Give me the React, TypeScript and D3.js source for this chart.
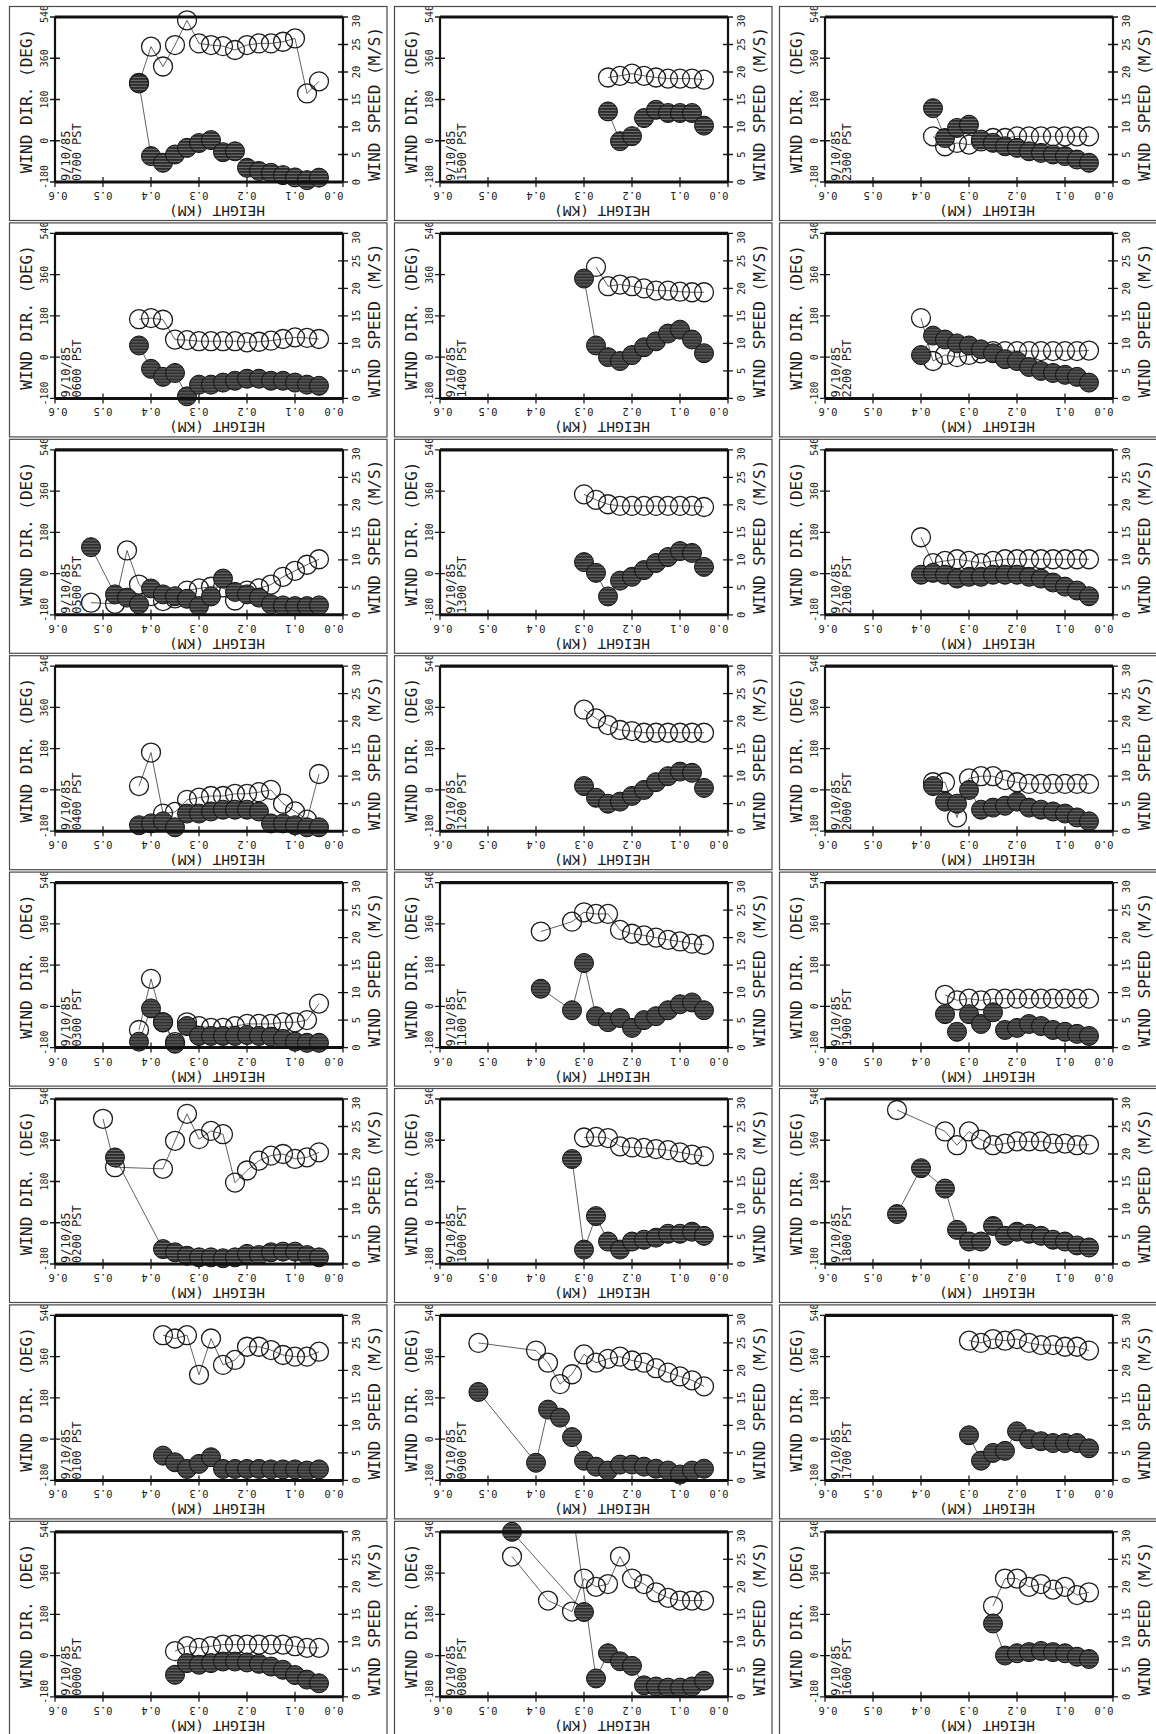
import React from 'react';
import * as d3 from 'd3';

// ---------- data (height km, wind direction deg, wind speed m/s) ----------
const G16 = [0.425, 0.4, 0.375, 0.35, 0.325, 0.3, 0.275, 0.25, 0.225, 0.2, 0.175, 0.15, 0.125, 0.1, 0.075, 0.05];
const G15 = [0.4, 0.375, 0.35, 0.325, 0.3, 0.275, 0.25, 0.225, 0.2, 0.175, 0.15, 0.125, 0.1, 0.075, 0.05];
const G14 = [0.375, 0.35, 0.325, 0.3, 0.275, 0.25, 0.225, 0.2, 0.175, 0.15, 0.125, 0.1, 0.075, 0.05];
const G13 = [0.35, 0.325, 0.3, 0.275, 0.25, 0.225, 0.2, 0.175, 0.15, 0.125, 0.1, 0.075, 0.05];
const G11 = [0.3, 0.275, 0.25, 0.225, 0.2, 0.175, 0.15, 0.125, 0.1, 0.075, 0.05];
const G9 = [0.25, 0.225, 0.2, 0.175, 0.15, 0.125, 0.1, 0.075, 0.05];

// column 1
const H0700 = G16;
const DIR0700 = [250, -67, -96, -60, -31, -10, 3, -50, -46, -118, -132, -140, -150, -160, -172, -161];
const SPD0700 = [18.0, 24.6, 21.0, 24.9, 29.4, 25.2, 24.9, 24.7, 24.0, 24.9, 25.2, 25.2, 25.5, 26.1, 16.1, 18.3];

const H0600 = G16;
const DIR0600 = [51, -51, -86, -69, -171, -120, -120, -111, -103, -94, -94, -103, -103, -111, -120, -125];
const SPD0600 = [14.4, 14.6, 14.3, 10.7, 10.6, 10.4, 10.4, 10.4, 10.4, 10.2, 10.3, 10.5, 10.8, 11.1, 11.0, 10.8];

const H0500 = [0.525, 0.475, 0.45, 0.425, 0.4, 0.375, 0.35, 0.325, 0.3, 0.275, 0.25, 0.225, 0.2, 0.175, 0.15, 0.125, 0.1, 0.075, 0.05];
const DIR0500 = [115, -91, -105, -134, -65, -91, -99, -110, -142, -100, -22, -80, -91, -105, -134, -139, -142, -142, -139];
const SPD0500 = [2.2, 2.0, 11.7, 5.5, 3.4, 2.5, 3.0, 4.4, 4.8, 5.1, 5.0, 2.6, 4.4, 4.8, 5.5, 6.9, 8.0, 9.1, 10.1];

const H0400 = G16;
const DIR0400 = [-154, -146, -137, -163, -103, -103, -94, -86, -86, -86, -94, -146, -146, -154, -163, -163];
const SPD0400 = [8.2, 14.3, 3.2, 3.5, 5.7, 6.1, 6.4, 6.4, 6.8, 6.8, 7.1, 7.5, 5.0, 3.6, 2.1, 10.4];

const H0300 = G16;
const DIR0300 = [-154, -9, -69, -163, -86, -129, -129, -129, -129, -125, -129, -132, -142, -154, -159, -159];
const SPD0300 = [3.2, 12.5, 4.6, 1.0, 4.6, 3.9, 3.6, 3.6, 3.9, 4.3, 4.3, 4.3, 4.6, 4.6, 5.0, 8.0];

const H0200 = [0.5, 0.475, 0.375, 0.35, 0.325, 0.3, 0.275, 0.25, 0.225, 0.2, 0.175, 0.15, 0.125, 0.1, 0.075, 0.05];
const DIR0200 = [null, 285, -115, -129, -144, -151, -151, -155, -151, -136, -141, -129, -126, -126, -141, -151];
const SPD0200 = [26.4, 17.6, 17.3, 22.4, 27.3, 22.7, 24.2, 23.6, 14.8, 17.0, 18.8, 19.7, 20.0, 19.1, 19.4, 20.3];

const H0100 = G14;
const DIR0100 = [-72, -101, -130, -108, -79, -130, -130, -130, -130, -132, -132, -132, -137, -132];
const SPD0100 = [26.4, 25.8, 26.4, 19.2, 25.8, 21.0, 21.9, 24.3, 24.3, 23.7, 22.8, 22.5, 22.5, 23.4];

const H0000 = G13;
const DIR0000 = [-84, -33, -40, -33, -26, -26, -30, -36, -48, -62, -85, -105, -121];
const SPD0000 = [8.3, 9.2, 8.9, 9.2, 9.5, 9.5, 9.5, 9.5, 9.5, 9.5, 9.2, 8.9, 8.9];

// column 2
const H1500 = G9;
const DIR1500 = [128, -2, 20, 99, 135, 121, 121, 121, 66];
const SPD1500 = [19.0, 19.3, 19.7, 19.3, 19.0, 18.8, 18.8, 18.8, 18.6];

const H1400 = G11;
const DIR1400 = [343, 51, 0, -17, 9, 43, 69, 103, 120, 77, 17];
const SPD1400 = [null, 23.9, 20.4, 20.7, 20.4, 20.0, 19.6, 19.6, 19.4, 19.3, 19.3];

const H1300 = G11;
const DIR1300 = [50, 3, -100, -31, -14, 15, 46, 72, 98, 90, 29];
const SPD1300 = [21.9, 20.9, 20.1, 19.8, 19.8, 19.8, 19.8, 19.8, 19.8, 19.8, 19.6];

const H1200 = G11;
const DIR1200 = [17, -34, -60, -51, -26, 0, 34, 60, 80, 75, 9];
const SPD1200 = [22.1, 20.5, 19.3, 18.4, 18.2, 17.9, 17.9, 17.9, 17.9, 17.9, 17.9];

const H1100 = [0.39, 0.325, 0.3, 0.275, 0.25, 0.225, 0.2, 0.175, 0.15, 0.125, 0.1, 0.075, 0.05];
const DIR1100 = [77, -17, 189, -43, -69, -51, -94, -60, -43, -17, 9, 17, -17];
const SPD1100 = [21.1, 22.9, 24.6, 24.3, 24.3, 21.4, 20.7, 20.4, 20.0, 19.6, 19.3, 18.9, 18.7];

const H1000 = [0.325, 0.3, 0.275, 0.25, 0.225, 0.2, 0.175, 0.15, 0.125, 0.1, 0.075, 0.05];
const DIR1000 = [278, -117, 29, -82, -117, -82, -74, -65, -48, -48, -39, -57];
const SPD1000 = [null, 23.0, 23.1, 22.9, 21.4, 21.2, 21.1, 20.9, 20.7, 20.3, 19.9, 19.6];

const H0900 = [0.52, 0.4, 0.375, 0.35, 0.325, 0.3, 0.275, 0.25, 0.225, 0.2, 0.175, 0.15, 0.125, 0.1, 0.075, 0.05];
const DIR0900 = [206, -103, 129, 94, 9, -94, -120, -137, -111, -111, -120, -129, -137, -154, -137, -129];
const SPD0900 = [25.0, 23.6, 21.4, 17.5, 19.3, 22.9, 21.4, 22.1, 22.5, 21.8, 21.4, 20.4, 19.6, 18.9, 18.2, 17.1];

const H0800 = [0.45, 0.375, 0.325, 0.3, 0.275, 0.25, 0.225, 0.2, 0.175, 0.15, 0.125, 0.1, 0.075, 0.05];
const SPD0800 = [25.5, 17.5, 15.5, 21.5, 20, 20.5, 25.5, 21.5, 20.5, 19, 18, 17.5, 17.5, 17.5];
const H0800D = [0.45, 0.3, 0.3, 0.335, 0.275, 0.25, 0.225, 0.2, 0.175, 0.15, 0.125, 0.1, 0.075, 0.05];
const DIR0800 = [540, 190, NaN, 800, -100, 10, -25, -45, -130, -135, -140, -140, -135, -110];

// column 3
const H2300 = G14;
const DIR2300 = [142, 12, 56, 70, 5, -9, -24, -31, -46, -53, -60, -67, -82, -96];
const SPD2300 = [8.3, 6.5, 7.1, 6.8, 7.4, 8.0, 8.0, 8.3, 8.3, 8.3, 8.3, 8.3, 8.3, 8.3];

const H2200 = G15;
const DIR2200 = [9, 94, 77, 60, 51, 34, 17, -9, -17, -43, -60, -69, -77, -86, -111];
const SPD2200 = [14.6, 6.8, 7.9, 7.5, 7.9, 8.2, 8.6, 8.6, 8.6, 8.6, 8.6, 8.6, 8.6, 8.6, 8.7];

const H2100 = G15;
const DIR2100 = [-5, 3, -5, -22, -14, -14, -5, -5, -5, -14, -22, -39, -57, -74, -99];
const SPD2100 = [14.1, 9.4, 9.8, 10.1, 9.8, 9.4, 9.8, 10.1, 10.1, 10.1, 10.1, 10.1, 10.1, 10.1, 10.1];

const H2000 = G14;
const DIR2000 = [17, -51, -60, 0, -86, -77, -69, -51, -77, -86, -94, -103, -120, -137];
const SPD2000 = [8.9, 8.9, 2.5, 9.6, 10.0, 10.0, 9.3, 8.9, 8.6, 8.6, 8.6, 8.6, 8.6, 8.6];

const H1900 = G13;
const DIR1900 = [-34, -111, -34, -77, -26, -103, -94, -77, -86, -103, -111, -120, -129];
const SPD1900 = [9.6, 8.6, 8.9, 8.6, 8.9, 8.9, 8.9, 8.9, 8.9, 8.9, 8.9, 8.9, 8.9];

const H1800 = [0.45, 0.4, 0.35, 0.325, 0.3, 0.275, 0.25, 0.225, 0.2, 0.175, 0.15, 0.125, 0.1, 0.075, 0.05];
const DIR1800 = [38, 238, 149, -31, -82, -82, -14, -57, -39, -48, -57, -74, -82, -99, -108];
const SPD1800 = [28.0, null, 24.1, 21.6, 24.1, 22.6, 21.6, 21.9, 22.3, 22.3, 22.3, 21.9, 21.9, 21.6, 21.7];

const H1700 = G11;
const DIR1700 = [17, -94, -60, -51, 34, 0, -9, -17, -17, -17, -40];
const SPD1700 = [25.4, 25.0, 25.7, 25.4, 25.7, 25.0, 24.6, 24.6, 24.3, 24.3, 23.6];

const H1600 = G9;
const DIR1600 = [140, 0, 10, 15, 20, 15, 10, -5, -15];
const SPD1600 = [16.5, 21.5, 21.5, 20, 20.5, 19.5, 20, 18.5, 19];

const DATE = '9/10/85';
const DIR_TICKS = [-180, 0, 180, 360, 540];
const SPD_TICKS = [0, 5, 10, 15, 20, 25, 30];
const H_TICKS = [0.6, 0.5, 0.4, 0.3, 0.2, 0.1, 0.0];

type Panel = { time: string; col: number; row: number; h: number[]; dir: (number | null)[]; spd: (number | null)[]; dirH?: number[] };

const PANELS: Panel[] = [
  { time: '0700', col: 0, row: 0, h: H0700, dir: DIR0700, spd: SPD0700 },
  { time: '0600', col: 0, row: 1, h: H0600, dir: DIR0600, spd: SPD0600 },
  { time: '0500', col: 0, row: 2, h: H0500, dir: DIR0500, spd: SPD0500 },
  { time: '0400', col: 0, row: 3, h: H0400, dir: DIR0400, spd: SPD0400 },
  { time: '0300', col: 0, row: 4, h: H0300, dir: DIR0300, spd: SPD0300 },
  { time: '0200', col: 0, row: 5, h: H0200, dir: DIR0200, spd: SPD0200 },
  { time: '0100', col: 0, row: 6, h: H0100, dir: DIR0100, spd: SPD0100 },
  { time: '0000', col: 0, row: 7, h: H0000, dir: DIR0000, spd: SPD0000 },
  { time: '1500', col: 1, row: 0, h: H1500, dir: DIR1500, spd: SPD1500 },
  { time: '1400', col: 1, row: 1, h: H1400, dir: DIR1400, spd: SPD1400 },
  { time: '1300', col: 1, row: 2, h: H1300, dir: DIR1300, spd: SPD1300 },
  { time: '1200', col: 1, row: 3, h: H1200, dir: DIR1200, spd: SPD1200 },
  { time: '1100', col: 1, row: 4, h: H1100, dir: DIR1100, spd: SPD1100 },
  { time: '1000', col: 1, row: 5, h: H1000, dir: DIR1000, spd: SPD1000 },
  { time: '0900', col: 1, row: 6, h: H0900, dir: DIR0900, spd: SPD0900 },
  { time: '0800', col: 1, row: 7, h: H0800, dir: DIR0800, spd: SPD0800, dirH: H0800D },
  { time: '2300', col: 2, row: 0, h: H2300, dir: DIR2300, spd: SPD2300 },
  { time: '2200', col: 2, row: 1, h: H2200, dir: DIR2200, spd: SPD2200 },
  { time: '2100', col: 2, row: 2, h: H2100, dir: DIR2100, spd: SPD2100 },
  { time: '2000', col: 2, row: 3, h: H2000, dir: DIR2000, spd: SPD2000 },
  { time: '1900', col: 2, row: 4, h: H1900, dir: DIR1900, spd: SPD1900 },
  { time: '1800', col: 2, row: 5, h: H1800, dir: DIR1800, spd: SPD1800 },
  { time: '1700', col: 2, row: 6, h: H1700, dir: DIR1700, spd: SPD1700 },
  { time: '1600', col: 2, row: 7, h: H1600, dir: DIR1600, spd: SPD1600 },
];

// ---------- layout ----------
const W = 1156, HGT = 1734;
const COL_DX = 385, ROW_DY = 216.4;
const BOX = { x0: 55, x1: 343, y0: 17, y1: 182 };
const FRAME = { x0: 9.5, x1: 387, y0: 6.5, y1: 220.5 };
const FONT = "'DejaVu Sans Mono', 'Liberation Mono', monospace";
const INK = '#1c1c1c';
const R = 9.5;

const xH = d3.scaleLinear().domain([0.6, 0]).range([BOX.x0, BOX.x1]);
const yDir = d3.scaleLinear().domain([-180, 540]).range([BOX.y1, BOX.y0]);
const ySpd = d3.scaleLinear().domain([0, 30]).range([BOX.y1, BOX.y0]);
const fmtH = d3.format('.1f');

type Pt = { h: number; v: number };

function toPts(hs: number[], vs: (number | null)[]): Pt[] {
  return hs
    .map((h, i) => ({ h, v: vs[i] as number }))
    .filter((d) => d.v !== null && d.v !== undefined);
}

function PanelView({ p }: { p: Panel }) {
  const tx = p.col * COL_DX;
  const ty = p.row * ROW_DY;
  const spdPts = toPts(p.h, p.spd);
  const dirPts = toPts(p.dirH || p.h, p.dir);
  const lineSpd = d3
    .line<Pt>()
    .defined((d) => Number.isFinite(d.v))
    .x((d) => xH(d.h))
    .y((d) => ySpd(d.v));
  const lineDir = d3
    .line<Pt>()
    .defined((d) => Number.isFinite(d.v))
    .x((d) => xH(d.h))
    .y((d) => yDir(d.v));
  const visSpd = spdPts.filter((d) => Number.isFinite(d.v) && d.v <= 31);
  const visDir = dirPts.filter((d) => Number.isFinite(d.v) && d.v <= 560);

  return (
    <g transform={`translate(${tx},${ty})`}>
      <g clipPath="url(#frameClip)">
        {/* axis titles */}
        <text transform={`translate(32,101) rotate(-90)`} textAnchor="middle" fontSize={16} fontFamily={FONT} fill={INK}>
          WIND DIR. (DEG)
        </text>
        <text transform={`translate(380,104) rotate(-90)`} textAnchor="middle" fontSize={16} fontFamily={FONT} fill={INK}>
          WIND SPEED (M/S)
        </text>
        <text transform={`translate(217,206) rotate(180)`} textAnchor="middle" fontSize={14.5} fontFamily={FONT} fill={INK}>
          HEIGHT (KM)
        </text>
        {/* dir ticks */}
        {DIR_TICKS.map((t) => {
          const y = yDir(t);
          const ly = t === 540 ? y - 3 : t === -180 ? y - 5 : y;
          return (
            <g key={'d' + t}>
              <line x1={50} x2={60} y1={y} y2={y} stroke={INK} strokeWidth={1.3} />
              <text transform={`translate(48,${ly}) rotate(-90)`} textAnchor="middle" fontSize={10} fontFamily={FONT} fill={INK}>
                {t}
              </text>
            </g>
          );
        })}
        {/* speed ticks */}
        {SPD_TICKS.map((t) => {
          const y = ySpd(t);
          const ly = t === 30 ? y + 4 : y;
          return (
            <g key={'s' + t}>
              <line x1={338} x2={348} y1={y} y2={y} stroke={INK} strokeWidth={1.3} />
              <text transform={`translate(360,${ly}) rotate(-90)`} textAnchor="middle" fontSize={10.5} fontFamily={FONT} fill={INK}>
                {t}
              </text>
            </g>
          );
        })}
        {/* height ticks */}
        {H_TICKS.map((t) => {
          const x = xH(t);
          const lx = t === 0.6 ? x + 3 : t === 0 ? x - 9 : x;
          return (
            <g key={'h' + t}>
              <line x1={x} x2={x} y1={177} y2={187} stroke={INK} strokeWidth={1.3} />
              <text transform={`translate(${lx},192) rotate(180)`} textAnchor="middle" fontSize={10.5} fontFamily={FONT} fill={INK}>
                {fmtH(t)}
              </text>
            </g>
          );
        })}
        {/* date / time label */}
        <text transform={`translate(70,181) rotate(-90)`} fontSize={12} fontFamily={FONT} fill={INK}>
          {DATE}
        </text>
        <text transform={`translate(80.5,181) rotate(-90)`} fontSize={12} fontFamily={FONT} fill={INK}>
          {`${p.time} PST`}
        </text>
        {/* connecting lines */}
        <g clipPath="url(#boxClip)">
          <path d={lineSpd(spdPts) || ''} fill="none" stroke="#3a3a3a" strokeWidth={0.8} />
          <path d={lineDir(dirPts) || ''} fill="none" stroke="#3a3a3a" strokeWidth={0.8} />
        </g>
        {/* wind speed: open circles */}
        {visSpd.map((d, i) => (
          <circle key={'os' + i} cx={xH(d.h)} cy={ySpd(d.v)} r={R} fill="none" stroke={INK} strokeWidth={1.3} />
        ))}
        {/* wind direction: filled circles */}
        {visDir.map((d, i) => (
          <circle key={'fd' + i} cx={xH(d.h)} cy={yDir(d.v)} r={R} fill="url(#stripe)" stroke="#111" strokeWidth={1} />
        ))}
        {/* plot box */}
        <line x1={BOX.x0} x2={BOX.x1} y1={BOX.y0} y2={BOX.y0} stroke="#111" strokeWidth={3.2} />
        <line x1={BOX.x0} x2={BOX.x1} y1={BOX.y1} y2={BOX.y1} stroke="#111" strokeWidth={3} />
        <line x1={BOX.x0} x2={BOX.x0} y1={BOX.y0} y2={BOX.y1} stroke="#111" strokeWidth={2.2} />
        <line x1={BOX.x1} x2={BOX.x1} y1={BOX.y0} y2={BOX.y1} stroke="#111" strokeWidth={2.2} />
      </g>
      {/* panel frame */}
      <rect x={FRAME.x0} y={FRAME.y0} width={FRAME.x1 - FRAME.x0} height={FRAME.y1 - FRAME.y0} fill="none" stroke="#4a4a4a" strokeWidth={1.2} />
    </g>
  );
}

export default function App() {
  return (
    <svg width={W} height={HGT} viewBox={`0 0 ${W} ${HGT}`} style={{ position: 'absolute', left: 0, top: 0, background: '#fff' }}>
      <defs>
        <pattern id="stripe" width={4} height={3} patternUnits="userSpaceOnUse">
          <rect width={4} height={3} fill="#2c2c2c" />
          <rect y={1.9} width={4} height={0.7} fill="#8e8e8e" />
        </pattern>
        <clipPath id="frameClip">
          <rect x={FRAME.x0} y={FRAME.y0} width={FRAME.x1 - FRAME.x0} height={FRAME.y1 - FRAME.y0} />
        </clipPath>
        <clipPath id="boxClip">
          <rect x={BOX.x0} y={BOX.y0} width={BOX.x1 - BOX.x0} height={BOX.y1 - BOX.y0} />
        </clipPath>
      </defs>
      <rect width={W} height={HGT} fill="#fff" />
      {PANELS.map((p) => (
        <PanelView key={p.time} p={p} />
      ))}
    </svg>
  );
}
